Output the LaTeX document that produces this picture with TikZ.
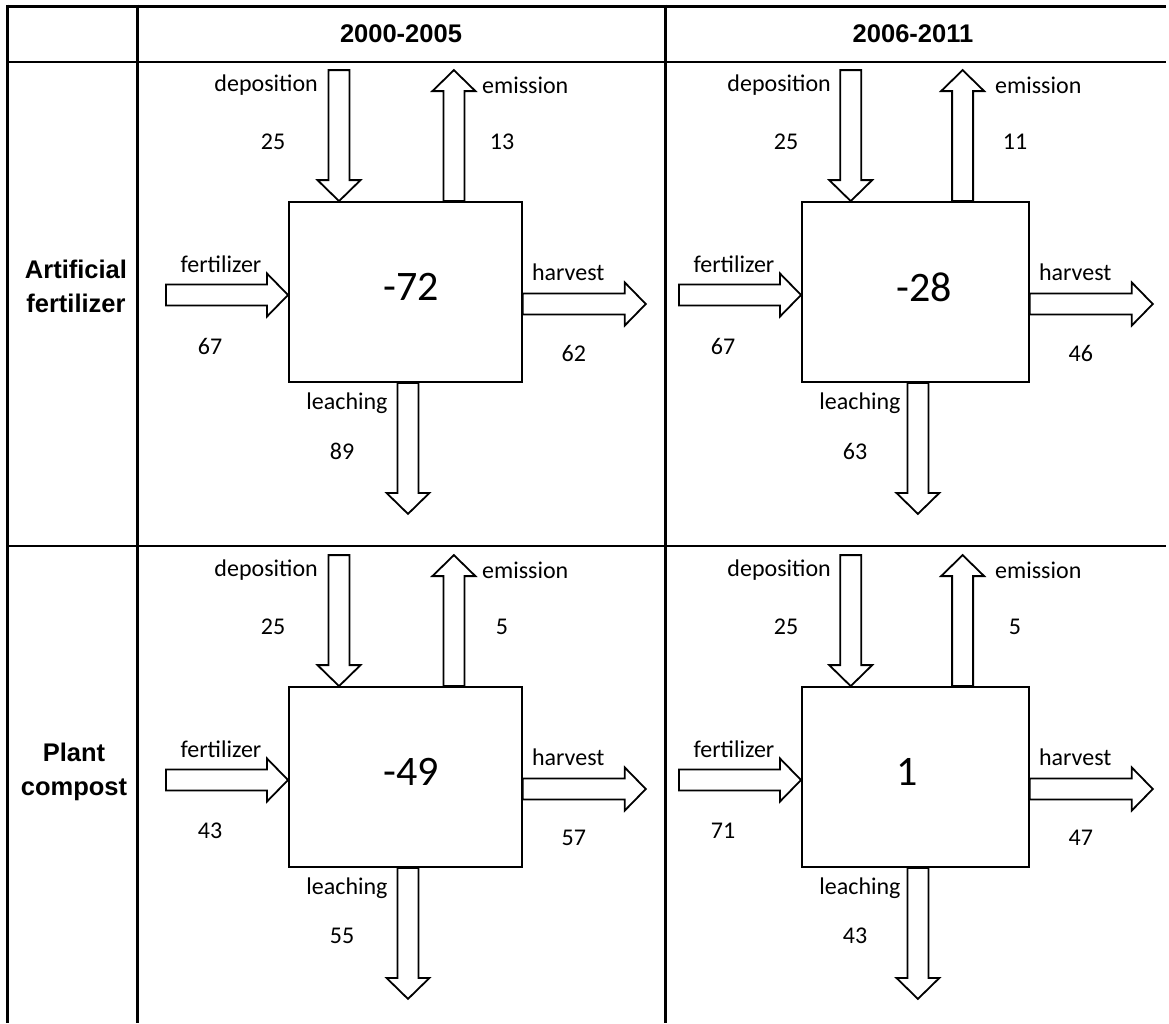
\documentclass[tikz,border=0pt]{standalone}
\usepackage{fontspec}
\setmainfont{Carlito}
\newfontfamily\headfont{Liberation Sans}
\usetikzlibrary{calc}

% block arrow: tail at #1, direction #2, length #3
\newcommand{\flowarrow}[3]{%
  \draw[flowline,shift={#1},rotate=#2] (0,-10.5) -- (#3-21,-10.5) -- (#3-21,-21.5) -- (#3,0) -- (#3-21,21.5) -- (#3-21,10.5) -- (0,10.5) -- cycle;}

\begin{document}
\begin{tikzpicture}[x=1pt,y=-1pt,
  gridline/.style={line width=1.6pt},
  flowline/.style={line width=1.8pt,line join=miter},
  balance box/.style={draw,line width=1.8pt,minimum height=180pt,anchor=west,inner sep=0},
  flowlabel/.style={inner sep=0,font=\fontsize{24}{28}\selectfont},
  netlabel/.style={inner sep=0,font=\fontsize{42}{48}\selectfont},
  headlabel/.style={inner sep=0,align=center,font=\headfont\bfseries\fontsize{25.5}{31}\selectfont}]
\useasboundingbox (0,0) rectangle (1169,1023);

%Table lines
\draw[line width=3pt] (7,6) -- (1166,6);
\draw[gridline] (7,62) -- (1166,62) (7,546) -- (1166,546);
\draw[line width=2.6pt] (7,62) -- (163,62) (653,62) -- (678,62) (1155,62) -- (1166,62)
  (7,546) -- (163,546) (653,546) -- (678,546) (1155,546) -- (1166,546);
\draw[line width=3pt] (7,4.5) -- (7,1023) (137,4.5) -- (137,1023) (665,4.5) -- (665,1023);

% Text Node
\node[headlabel] (head1) at (401,34) {2000-2005};
\node[headlabel] (head2) at (913,34) {2006-2011};
\node[headlabel] (row1) at (76,286.5) {Artificial\\[3pt]fertilizer};
\node[headlabel] (row2) at (74,771.5) {Plant\\[3pt]compost};

\foreach \id/\cx/\cy/\bw/\dep/\emi/\fer/\net/\har/\lea in {
    a/0/0/233/25/13/67/-72/62/89,
    b/513/0/227/25/11/67/-28/46/63,
    c/0/485/233/25/5/43/-49/57/55,
    d/513/485/227/25/5/71/1/47/43}{
  %Shape: balance box
  \node[balance box,minimum width={\bw pt}] (box\id) at (288+\cx,292+\cy) {};
  %Block arrows
  \flowarrow{($(box\id.north west)+(0.219*\bw,-131)$)}{-90}{131}
  \flowarrow{($(box\id.north west)+(0.712*\bw,0)$)}{90}{131}
  \flowarrow{($(box\id.west)+(-122,3)$)}{0}{122}
  \flowarrow{($(box\id.east)+(0,12)$)}{0}{123}
  \flowarrow{($(box\id.south west)+(0.515*\bw,0)$)}{-90}{131}
  % Text Node
  \begin{scope}[shift={(box\id.west)}]
    \node[netlabel,anchor=west] (net\id) at (95,-5) {\net};
    \node[flowlabel,anchor=east] (dep\id) at (30,-207) {deposition};
    \node[flowlabel] (depv\id) at (-15,-150) {\dep};
    \node[flowlabel,anchor=west] (emi\id) at (194,-207) {emission};
    \node[flowlabel] (emiv\id) at (214,-150) {\emi};
    \node[flowlabel] (fer\id) at (-67,-28) {fertilizer};
    \node[flowlabel] (ferv\id) at (-78,54) {\fer};
    \node[flowlabel] (lea\id) at (59,111) {leaching};
    \node[flowlabel] (leav\id) at (54,159) {\lea};
  \end{scope}
  \node[flowlabel,anchor=west] (har\id) at ($(box\id.east)+(9,-20)$) {harvest};
  \node[flowlabel] (harv\id) at ($(box\id.east)+(51,61)$) {\har};
}
\end{tikzpicture}
\end{document}
